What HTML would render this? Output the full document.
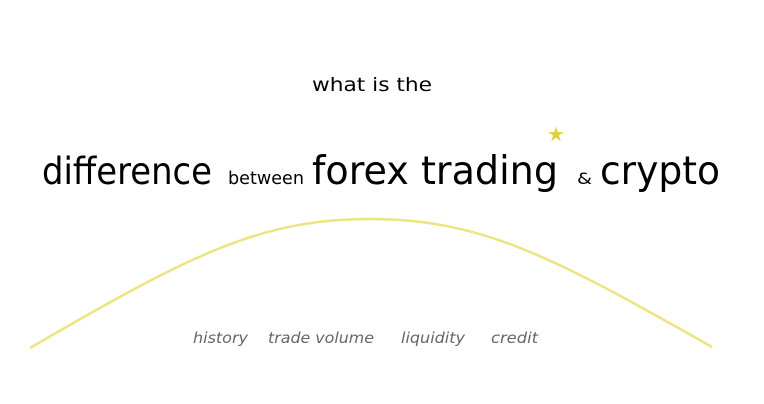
<!DOCTYPE html>
<html><head><meta charset="utf-8"><style>html,body{margin:0;padding:0;background:#fff}svg{display:block}</style></head>
<body>
<svg width="764" height="404" viewBox="0 0 764 404" xmlns="http://www.w3.org/2000/svg">
<rect width="764" height="404" fill="#fff"/>
<path d="M30,348 C190,255 260,219 370,219 C480,219 550,255 712,347" fill="none" stroke="#ece47e" stroke-width="2.5"/>
<g font-family="'DejaVu Sans','Liberation Sans',sans-serif" fill="#000">
<text x="312" y="91" font-size="19" textLength="120" lengthAdjust="spacingAndGlyphs">what is the</text>
<text x="42" y="184" font-size="37" textLength="170" lengthAdjust="spacingAndGlyphs">difference</text>
<text x="228" y="184" font-size="18" textLength="76" lengthAdjust="spacingAndGlyphs">between</text>
<text x="312" y="184" font-size="39" textLength="246" lengthAdjust="spacingAndGlyphs">forex trading</text>
<text x="577" y="184" font-size="16" textLength="15" lengthAdjust="spacingAndGlyphs">&amp;</text>
<text x="600" y="184" font-size="39" textLength="120" lengthAdjust="spacingAndGlyphs">crypto</text>
</g>
<text x="556" y="141" font-size="20" fill="#e0d040" text-anchor="middle" font-family="'DejaVu Sans',sans-serif">★</text>
<g font-family="'DejaVu Sans','Liberation Sans',sans-serif" font-style="italic" fill="#666" font-size="15">
<text x="193" y="343" textLength="55" lengthAdjust="spacingAndGlyphs">history</text>
<text x="268" y="343" textLength="106" lengthAdjust="spacingAndGlyphs">trade volume</text>
<text x="401" y="343" textLength="64" lengthAdjust="spacingAndGlyphs">liquidity</text>
<text x="491" y="343" textLength="47" lengthAdjust="spacingAndGlyphs">credit</text>
</g>
</svg>
</body></html>
